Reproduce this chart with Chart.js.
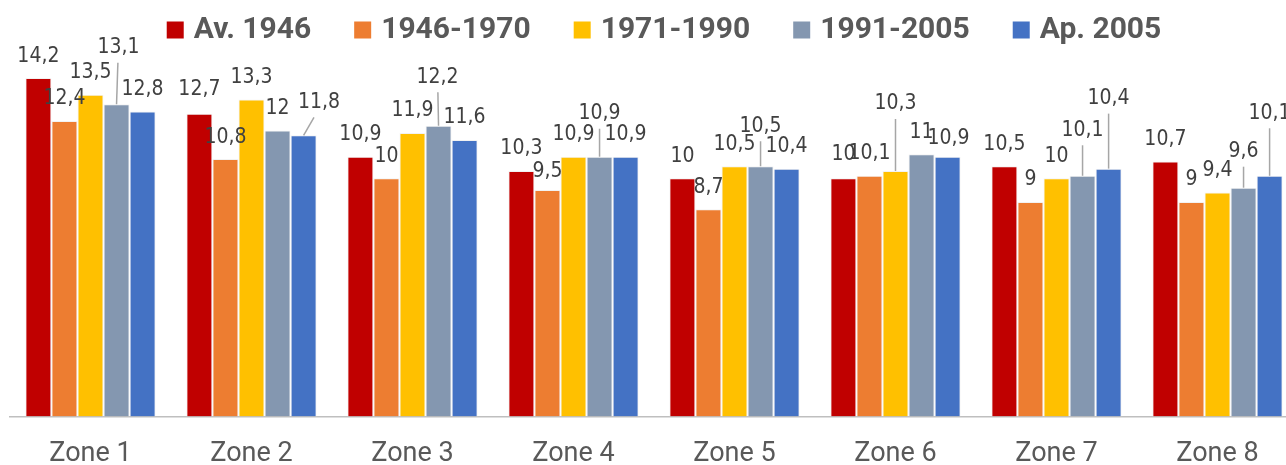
<!DOCTYPE html>
<html>
<head>
<meta charset="utf-8">
<script src="https://cdn.jsdelivr.net/npm/chart.js@4"></script>
<style>
  html, body { margin: 0; padding: 0; background: #fff; overflow: hidden; }
  #wrap { width: 1300px; height: 465px; position: relative; }
</style>
</head>
<body>
<div id="wrap"><canvas id="chart"></canvas></div>
<script>
// ===== Data =====
const zones = ['Zone 1', 'Zone 2', 'Zone 3', 'Zone 4', 'Zone 5', 'Zone 6', 'Zone 7', 'Zone 8'];
const periods = ['Av. 1946', '1946-1970', '1971-1990', '1991-2005', 'Ap. 2005'];
const before1946 = [14.2, 12.7, 10.9, 10.3, 10, 10, 10.5, 10.7];
const p1946_1970 = [12.4, 10.8, 10, 9.5, 8.7, 10.1, 9, 9];
const p1971_1990 = [13.5, 13.3, 11.9, 10.9, 10.5, 10.3, 10, 9.4];
const p1991_2005 = [13.1, 12, 12.2, 10.9, 10.5, 11, 10.1, 9.6];
const after2005 = [12.8, 11.8, 11.6, 10.9, 10.4, 10.9, 10.4, 10.1];
const colors = ['#C00000', '#ED7D31', '#FFC000', '#8497B0', '#4472C4'];

// label placement, "dataset,zone": [dx, dy from bar top, leader line]
const labelOffsets = {
    '0,1': [0, -25], '0,5': [0, -25], '1,3': [0, -20], '4,5': [1, -19],
    '3,0': [2, -57.5, true], '4,1': [15.5, -34, true], '3,2': [-1, -49.5, true],
    '3,3': [0, -44, true], '3,4': [0, -41, true], '2,5': [0, -68, true],
    '3,6': [0, -46.5, true], '4,6': [0, -71, true], '3,7': [0, -37, true], '4,7': [0, -63.5, true]
};

const seriesValues = [before1946, p1946_1970, p1971_1990, p1991_2005, after2005];

function fmt(v) {
    return String(v).replace('.', ',');
}

// ===== Plugins =====
const valueLabels = {
    id: 'valueLabels',
    afterDatasetsDraw(chart) {
        const ctx = chart.ctx;
        ctx.save();
        ctx.font = '21px "Liberation Sans Narrow", "DejaVu Sans Condensed", sans-serif';
        ctx.textAlign = 'center';
        ctx.textBaseline = 'middle';
        chart.data.datasets.forEach((ds, di) => {
            chart.getDatasetMeta(di).data.forEach((bar, i) => {
                const off = labelOffsets[di + ',' + i] || [0, -23];
                const lx = bar.x + off[0];
                const ly = bar.y + off[1];
                if (off[2]) {
                    ctx.strokeStyle = '#a6a6a6';
                    ctx.lineWidth = 1.5;
                    ctx.beginPath();
                    ctx.moveTo(bar.x, bar.y);
                    ctx.lineTo(lx - off[0] * 0.33, ly + 16);
                    ctx.stroke();
                }
                ctx.fillStyle = '#404040';
                ctx.fillText(fmt(ds.data[i]), lx, ly + 1);
            });
        });
        ctx.restore();
    }
};

const topLegend = {
    id: 'topLegend',
    afterDraw(chart) {
        const ctx = chart.ctx;
        const box = 17, gap = 10, spacing = 43, centerX = 664, y = 30;
        ctx.save();
        ctx.font = 'bold 30px Roboto, sans-serif';
        ctx.textBaseline = 'middle';
        ctx.textAlign = 'left';
        const items = chart.data.datasets.map(ds => ({
            text: ds.label, color: ds.backgroundColor, w: ctx.measureText(ds.label).width
        }));
        const total = items.reduce((s, it) => s + box + gap + it.w, 0) + spacing * (items.length - 1);
        let x = centerX - total / 2;
        items.forEach(it => {
            ctx.fillStyle = it.color;
            ctx.fillRect(x, y - box / 2, box, box);
            ctx.fillStyle = '#595959';
            ctx.fillText(it.text, x + box + gap, y);
            x += box + gap + it.w + spacing;
        });
        ctx.restore();
    }
};

// ===== Chart =====
const ctx = document.getElementById('chart').getContext('2d');
new Chart(ctx, {
    type: 'bar',
    data: {
        labels: zones,
        datasets: periods.map((p, i) => ({
            label: p,
            data: seriesValues[i],
            backgroundColor: colors[i],
            borderColor: '#f2f2f2',
            borderWidth: 1,
            categoryPercentage: 0.809,
            barPercentage: 1
        }))
    },
    options: {
        responsive: true,
        maintainAspectRatio: false,
        animation: false,
        layout: { padding: { left: 10, right: 2, top: 59, bottom: -26.5 } },
        plugins: {
            legend: { display: false },
            tooltip: { enabled: false }
        },
        scales: {
            x: {
                grid: { display: false, drawTicks: false },
                border: { display: true, color: '#bfbfbf', width: 1.5 },
                ticks: {
                    color: '#595959',
                    padding: 24,
                    font: { family: 'Roboto, sans-serif', size: 27, lineHeight: 1 }
                }
            },
            y: {
                display: false,
                min: 0,
                max: 15
            }
        }
    },
    plugins: [valueLabels, topLegend]
});
</script>
</body>
</html>
